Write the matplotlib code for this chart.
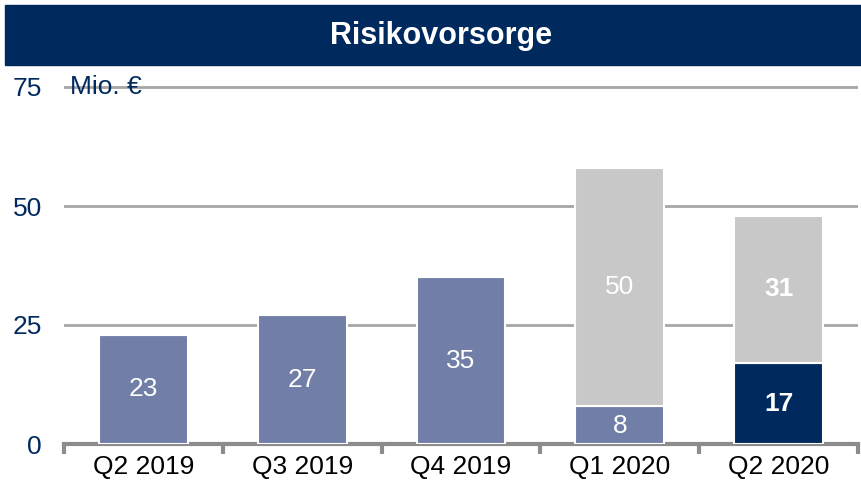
import matplotlib.pyplot as plt
from matplotlib.patches import Rectangle

# data
quarters = ['Q2 2019', 'Q3 2019', 'Q4 2019', 'Q1 2020', 'Q2 2020']
base_vals = [23, 27, 35, 8, 17]
extra_vals = [0, 0, 0, 50, 31]
base_colors = ['#717ea7', '#717ea7', '#717ea7', '#717ea7', '#002a5e']
bold_labels = [False, False, False, False, True]
y_ticks = [0, 25, 50, 75]

NAVY = '#002a5e'
GREY = '#c8c8c8'

plt.rcParams['font.family'] = ['Liberation Sans', 'DejaVu Sans']

fig = plt.figure(figsize=(8.61, 5.04), dpi=100)

# title bar
fig.patches.append(Rectangle((5 / 861, 1 - 65 / 504), 856 / 861, 60 / 504,
                             transform=fig.transFigure, color=NAVY, zorder=0))
fig.text(441 / 861, 1 - 36 / 504, 'Risikovorsorge', color='white', fontsize=22,
         fontweight='bold', ha='center', va='center')

ymax = 78
unit = 357 / 75
ax = fig.add_axes([64 / 861, 60 / 504, 794 / 861, ymax * unit / 504])
x = range(len(quarters))

ax.bar(x, base_vals, width=0.56, color=base_colors, edgecolor='white', linewidth=1.5, zorder=3)
ax.bar(x, extra_vals, width=0.56, bottom=base_vals, color=GREY, edgecolor='white',
       linewidth=1.5, zorder=3)

for i in x:
    w = 'bold' if bold_labels[i] else 'normal'
    b = base_vals[i]
    ax.text(i, b / 2 if b > 10 else b / 2 - 0.3, str(b), color='white', fontsize=19,
            ha='center', va='center', fontweight=w, zorder=4)
    if extra_vals[i]:
        ax.text(i, b + extra_vals[i] / 2, str(extra_vals[i]), color='white', fontsize=19,
                ha='center', va='center', fontweight=w, zorder=4)

ax.set_xlim(-0.5, len(quarters) - 0.5)
ax.set_ylim(0, ymax)
for y in y_ticks[1:]:
    ax.axhline(y, color='#a6a6a6', linewidth=2, zorder=1)

ax.set_yticks(y_ticks)
ax.set_yticklabels([str(t) for t in y_ticks], color=NAVY, fontsize=19)
ax.tick_params(axis='y', length=0, pad=16)

ax.set_xticks([i - 0.5 for i in range(len(quarters) + 1)], minor=False)
ax.set_xticklabels([])
ax.set_xticks(list(x), minor=True)
ax.set_xticklabels(quarters, minor=True, fontsize=19, color='black')
ax.tick_params(axis='x', which='major', length=7, width=3, color='#8c8c8c', direction='out')
ax.tick_params(axis='x', which='minor', length=0, pad=8)

for s in ['top', 'right', 'left']:
    ax.spines[s].set_visible(False)
ax.spines['bottom'].set_color('#8c8c8c')
ax.spines['bottom'].set_linewidth(3)

ax.text(6 / 794, 75, 'Mio. €', transform=ax.get_yaxis_transform(), color=NAVY,
        fontsize=19, ha='left', va='center', zorder=5)

fig.savefig('out.png', dpi=100)
